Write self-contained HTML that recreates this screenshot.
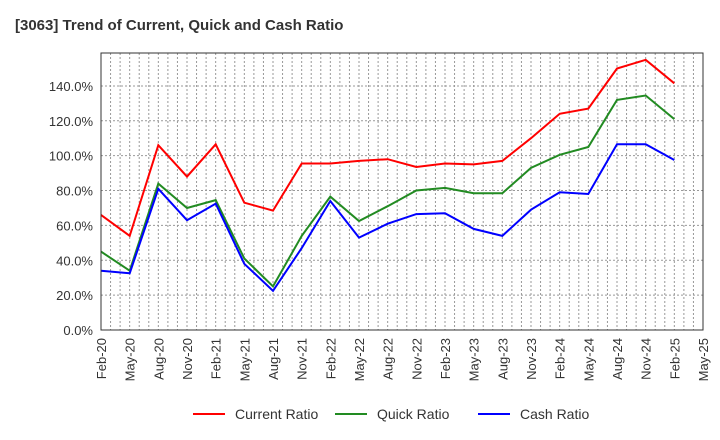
<!DOCTYPE html>
<html><head><meta charset="utf-8">
<style>
body{margin:0;background:#fff;}
svg{display:block;font-family:"Liberation Sans",Arial,sans-serif;}
</style></head>
<body>
<svg id="chart" width="720" height="440" xmlns="http://www.w3.org/2000/svg">
<text x="15" y="30" font-size="15" font-weight="bold" fill="#333">[3063]  Trend of Current, Quick and Cash Ratio</text>
<g id="grid"></g>
<g id="series"></g>
<g id="axes"></g>
<g id="legend"></g>
</svg>
<script>
const categories=["Feb-20","May-20","Aug-20","Nov-20","Feb-21","May-21","Aug-21","Nov-21","Feb-22","May-22","Aug-22","Nov-22","Feb-23","May-23","Aug-23","Nov-23","Feb-24","May-24","Aug-24","Nov-24","Feb-25","May-25"];
const currentRatio=[66,54,106,88,106.5,73,68.5,95.5,95.5,97,98,93.5,95.5,95,97,110,124,127,150,155,141.5];
const quickRatio=[45,34,84,70,74.5,41,25,54,76.5,62.5,71,80,81.5,78.5,78.5,93,100.5,105,132,134.5,121];
const cashRatio=[34,32.5,81,63,72.5,38,22.5,47,74,53,61,66.5,67,58,54,69,79,78,106.5,106.5,97.5];
const yTicks=[0,20,40,60,80,100,120,140];
const seriesNames=["Current Ratio","Quick Ratio","Cash Ratio"];
const seriesColors=["#ff0000","#228b22","#0000ff"];

const L=101,R=703,T=53,B=330,YMAX=158.9;
const step=(R-L)/(categories.length-1);
const xs=i=>L+i*step;
const ys=v=>B-(v/YMAX)*(B-T);
const NS="http://www.w3.org/2000/svg";
function mk(tag,attrs,parent){const e=document.createElementNS(NS,tag);for(const k in attrs)e.setAttribute(k,attrs[k]);parent.appendChild(e);return e;}
const grid=document.getElementById('grid'),axes=document.getElementById('axes'),ser=document.getElementById('series'),leg=document.getElementById('legend');

// vertical monthly grid
for(let m=1;m<(categories.length-1)*3;m++){
  const x=L+m*step/3;
  const g=mk('line',{x1:x,x2:x,y1:T,y2:B,stroke:'#999','stroke-width':1,'stroke-dasharray':'2,2'},grid);
  
  
}
yTicks.forEach(v=>{
  const y=ys(v);
  if(v>0){const g=mk('line',{x1:L,x2:R,y1:y,y2:y,stroke:'#999','stroke-width':1,'stroke-dasharray':'2,2'},grid);
  
  }
  const t=mk('text',{x:L-8,y:y+5,'text-anchor':'end','font-size':13,fill:'#333'},axes);
  t.textContent=v.toFixed(1)+'%';
  
  
});
const frame=mk('rect',{x:L,y:T,width:R-L,height:B-T,fill:'none',stroke:'#333','stroke-width':1},axes);


categories.forEach((c,i)=>{
  const x=xs(i);
  const t=mk('text',{x:0,y:0,'text-anchor':'end','font-size':13,fill:'#333',transform:`translate(${x+5},${B+8}) rotate(-90)`},axes);
  t.textContent=c;
  
  
});
[currentRatio,quickRatio,cashRatio].forEach((d,si)=>{
  const pts=d.map((v,i)=>xs(i).toFixed(1)+','+ys(v).toFixed(1)).join(' ');
  const p=mk('polyline',{points:pts,fill:'none',stroke:seriesColors[si],'stroke-width':2,'stroke-linejoin':'miter'},ser);
  
  
});
const lx=[193,335,478];
seriesNames.forEach((n,i)=>{
  const l=mk('line',{x1:lx[i],x2:lx[i]+32,y1:414,y2:414,stroke:seriesColors[i],'stroke-width':2},leg);
  
  
  const t=mk('text',{x:lx[i]+42,y:419,'font-size':14,fill:'#333'},leg);
  t.textContent=n;
  
  
});
</script>
</body></html>
